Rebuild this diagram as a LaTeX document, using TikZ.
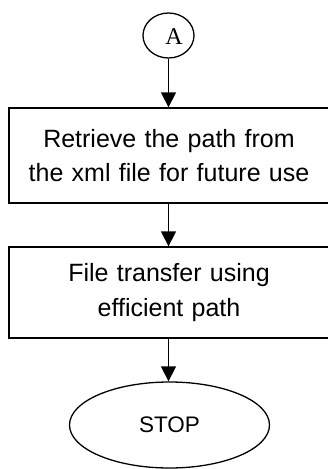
\documentclass[tikz,border=0pt]{standalone}
\usepackage{fontspec}
\setmainfont{Liberation Sans}
\newfontfamily\serifA{Liberation Serif}
\usetikzlibrary{arrows.meta,shapes.geometric}
\begin{document}
\begin{tikzpicture}[x=1pt,y=-1pt,
  line width=1.3pt,
  box/.style={draw, rectangle, minimum width=320pt, text width=310pt, align=center,
    font=\fontsize{25}{34.5}\selectfont, inner sep=0pt},
  conn/.style={draw, ellipse, inner sep=0pt},
  flow/.style={-{Triangle[length=15pt,width=15pt]}}]
\useasboundingbox (0,0) rectangle (327,469);
\node[conn, minimum width=51pt, minimum height=45pt] (a) at (168.5,35.5) {};
\node[font=\serifA\fontsize{24}{24}\selectfont, inner sep=0pt] (al) at (174,37) {A};
\node[box, minimum height=95pt] (b1) at (169,155.5) {Retrieve the path from\\the xml file for future use};
\node[box, minimum height=91pt] (b2) at (169,292.5) {File transfer using\\efficient path};
\node[conn, minimum width=200pt, minimum height=86pt, font=\fontsize{22.5}{28}\selectfont] (stop) at (169.5,425) {STOP};
\draw[flow] (a.south) -- (a.south |- b1.north);
\draw[flow] (b1.south -| a.south) -- (a.south |- b2.north);
\draw[flow] (b2.south -| a.south) -- (a.south |- stop.north);
\end{tikzpicture}
\end{document}
